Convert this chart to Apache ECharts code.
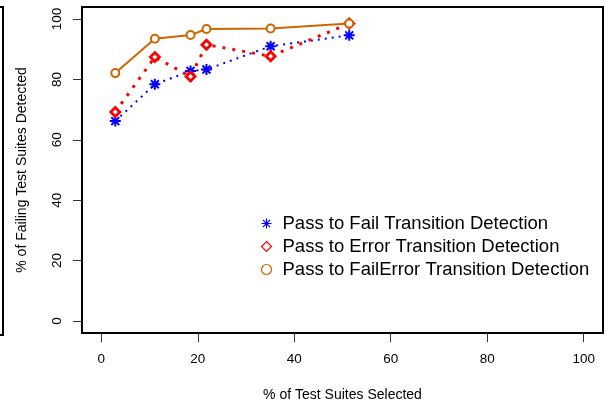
<!DOCTYPE html>
<html>
<head>
<meta charset="utf-8">
<script src="https://cdn.jsdelivr.net/npm/echarts@6/dist/echarts.min.js"></script>
<style>
html,body{margin:0;padding:0;background:#fff;}
#c{width:608px;height:408px;}
</style>
</head>
<body>
<div id="c"></div>
<script>
// Data
var xSelected = [2.9, 11.1, 18.5, 21.8, 35.1, 51.4];
var passToFail = [66.2, 78.4, 82.8, 83.3, 91.0, 94.6];
var passToError = [69.2, 87.4, 81.0, 91.5, 87.7, 98.5];
var passToFailError = [82.1, 93.5, 94.7, 96.7, 96.9, 98.5];
var seriesNames = ['Pass to Fail Transition Detection', 'Pass to Error Transition Detection', 'Pass to FailError Transition Detection'];
var xTicks = [0, 20, 40, 60, 80, 100];
var yTicks = [0, 20, 40, 60, 80, 100];

function pairs(xs, ys) { return xs.map(function (x, i) { return [x, ys[i]]; }); }

var FONT = '"Liberation Sans", Arial, Helvetica, sans-serif';
var STAR = 'path://M0,-1L0,1M-1,0L1,0M-0.72,-0.72L0.72,0.72M-0.72,0.72L0.72,-0.72';
var BLUE = '#0000ff', RED = '#ff0000', ORANGE = '#cd6600';

var chart = echarts.init(document.getElementById('c'), null, { renderer: 'canvas' });
chart.setOption({
  animation: false,
  backgroundColor: '#fff',
  grid: { left: 82, top: 7, right: 5, bottom: 75, show: true, borderColor: '#000', borderWidth: 2, backgroundColor: 'transparent', containLabel: false },
  xAxis: {
    type: 'value', min: -4, max: 104,
    name: '% of Test Suites Selected', nameLocation: 'middle', nameGap: 55,
    nameTextStyle: { fontFamily: FONT, fontSize: 14, color: '#000' },
    axisLine: { show: false, onZero: false },
    axisTick: { show: true, inside: false, customValues: xTicks, length: 9, lineStyle: { color: '#333', width: 1 } },
    axisLabel: { customValues: xTicks, margin: 19, fontFamily: FONT, fontSize: 13.5, color: '#000' },
    splitLine: { show: false }
  },
  yAxis: {
    type: 'value', min: -4, max: 104,
    name: '% of Failing Test Suites Detected', nameLocation: 'middle', nameGap: 53, nameRotate: 90,
    nameTextStyle: { fontFamily: FONT, fontSize: 14, color: '#000' },
    axisLine: { show: false, onZero: false },
    axisTick: { show: true, inside: false, customValues: yTicks, length: 9, lineStyle: { color: '#333', width: 1 } },
    axisLabel: { customValues: yTicks, rotate: 90, margin: 18, fontFamily: FONT, fontSize: 13.5, color: '#000' },
    splitLine: { show: false }
  },
  legend: {
    orient: 'vertical', left: 254, top: 209, itemGap: 4, itemWidth: 10, itemHeight: 10,
    textStyle: { fontFamily: FONT, fontSize: 18.5, color: '#000', padding: [0, 0, 0, 6] },
    data: [
      { name: seriesNames[0], icon: STAR, itemStyle: { color: 'none', borderColor: BLUE, borderWidth: 1.2 } },
      { name: seriesNames[1], icon: 'diamond', itemStyle: { color: '#fff', borderColor: RED, borderWidth: 1.2 } },
      { name: seriesNames[2], icon: 'circle', itemStyle: { color: '#fff', borderColor: ORANGE, borderWidth: 1.2 } }
    ]
  },
  graphic: [
    { type: 'rect', shape: { x: -10, y: 7, width: 13, height: 328 }, style: { fill: 'none', stroke: '#000', lineWidth: 2 } }
  ],
  series: [
    {
      name: seriesNames[0], type: 'line', data: pairs(xSelected, passToFail), z: 2,
      symbol: STAR, symbolSize: 11,
      itemStyle: { color: BLUE, borderColor: BLUE, borderWidth: 2 },
      lineStyle: { color: BLUE, width: 2, type: [2, 5] }
    },
    {
      name: seriesNames[1], type: 'line', data: pairs(xSelected, passToError), z: 3,
      symbol: 'diamond', symbolSize: 9,
      itemStyle: { color: '#fff', borderColor: RED, borderWidth: 2.8 },
      lineStyle: { color: RED, width: 3, type: [3, 7] }
    },
    {
      name: seriesNames[2], type: 'line', data: pairs(xSelected, passToFailError), z: 4,
      symbol: 'circle', symbolSize: 8,
      itemStyle: { color: '#fff', borderColor: ORANGE, borderWidth: 2 },
      lineStyle: { color: ORANGE, width: 2, type: 'solid' }
    }
  ]
});
</script>
</body>
</html>
